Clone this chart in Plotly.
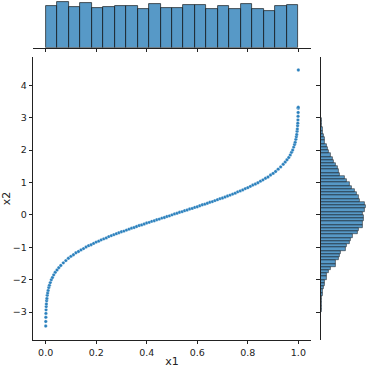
import numpy as np
import plotly.graph_objects as go

# scatter points (x1, x2)
x1_vals = [0.0003, 0.0005, 0.0008, 0.0012, 0.0017, 0.0023, 0.003, 0.004, 0.005, 0.0065,
           0.008, 0.01, 0.0125, 0.015, 0.0185, 0.0225, 0.027, 0.032, 0.038, 0.045,
           0.052, 0.06, 0.07, 0.08, 0.09, 0.10, 0.11, 0.12, 0.13, 0.14,
           0.15, 0.16, 0.17, 0.18, 0.19, 0.20, 0.21, 0.22, 0.23, 0.24,
           0.25, 0.26, 0.27, 0.28, 0.29, 0.30, 0.31, 0.32, 0.33, 0.34,
           0.35, 0.36, 0.37, 0.38, 0.39, 0.40, 0.41, 0.42, 0.43, 0.44,
           0.45, 0.46, 0.47, 0.48, 0.49, 0.50,
           0.51, 0.52, 0.53, 0.54, 0.55, 0.56, 0.57, 0.58, 0.59, 0.60,
           0.61, 0.62, 0.63, 0.64, 0.65, 0.66, 0.67, 0.68, 0.69, 0.70,
           0.71, 0.72, 0.73, 0.74, 0.75, 0.76, 0.77, 0.78, 0.79, 0.80,
           0.81, 0.82, 0.83, 0.84, 0.85, 0.86, 0.87, 0.88, 0.89, 0.90,
           0.91, 0.92, 0.93, 0.94, 0.948, 0.955, 0.962, 0.968, 0.973, 0.9775,
           0.9815, 0.985, 0.9875, 0.99, 0.992, 0.9935, 0.995, 0.996, 0.997, 0.9977,
           0.9983, 0.9988, 0.9992, 0.9995, 0.9996, 1.0]
x2_vals = [-3.43, -3.29, -3.16, -3.04, -2.93, -2.83, -2.75, -2.65, -2.58, -2.48,
           -2.41, -2.33, -2.24, -2.17, -2.09, -2.00, -1.93, -1.85, -1.77, -1.70,
           -1.63, -1.56, -1.48, -1.41, -1.34, -1.28, -1.23, -1.17, -1.13, -1.08,
           -1.04, -0.99, -0.95, -0.92, -0.88, -0.84, -0.81, -0.77, -0.74, -0.71,
           -0.67, -0.64, -0.61, -0.58, -0.55, -0.52, -0.50, -0.47, -0.44, -0.41,
           -0.39, -0.36, -0.33, -0.31, -0.28, -0.25, -0.23, -0.20, -0.18, -0.15,
           -0.13, -0.10, -0.08, -0.05, -0.03, 0.00,
           0.03, 0.05, 0.08, 0.10, 0.13, 0.15, 0.18, 0.20, 0.23, 0.25,
           0.28, 0.31, 0.33, 0.36, 0.39, 0.41, 0.44, 0.47, 0.50, 0.52,
           0.55, 0.58, 0.61, 0.64, 0.67, 0.71, 0.74, 0.77, 0.81, 0.84,
           0.88, 0.92, 0.95, 0.99, 1.04, 1.08, 1.13, 1.17, 1.23, 1.28,
           1.34, 1.41, 1.48, 1.56, 1.63, 1.70, 1.77, 1.85, 1.93, 2.00,
           2.09, 2.17, 2.24, 2.33, 2.41, 2.48, 2.58, 2.65, 2.75, 2.83,
           2.93, 3.04, 3.16, 3.29, 3.32, 4.47]

# top marginal histogram of x1 (22 bins over 0..1)
x1_counts = [457, 497, 443, 493, 439, 450, 461, 461, 418, 475, 432,
             436, 468, 464, 428, 457, 425, 475, 425, 403, 457, 464]

# right marginal histogram of x2 (bins of 0.1 starting at -3.5)
x2_counts = [2, 2, 3, 4, 5, 6, 8, 10, 12, 14,
             18, 22, 26, 36, 42, 58, 62, 80, 98, 148,
             155, 185, 192, 205, 258, 265, 290, 302, 322, 378,
             385, 425, 432, 440, 436, 432, 445, 458, 450, 398,
             388, 362, 350, 318, 298, 268, 245, 190, 182, 170,
             150, 132, 125, 98, 80, 76, 58, 42, 38, 30,
             24, 18, 14, 10, 8, 5, 4, 3, 2]

x1_edges = np.linspace(0, 1, len(x1_counts) + 1)
x1_centers = (x1_edges[:-1] + x1_edges[1:]) / 2
x2_centers = -3.5 + 0.1 * (np.arange(len(x2_counts)) + 0.5)

bar_fill = 'rgba(31,119,180,0.75)'
bar_edge = 'rgba(20,20,20,0.85)'
font = dict(family='DejaVu Sans', size=9.5, color='#222')

fig = go.Figure()
fig.add_trace(go.Bar(x=x1_centers, y=x1_counts, width=1 / len(x1_counts),
                     marker=dict(color=bar_fill, line=dict(color=bar_edge, width=0.8)),
                     xaxis='x2', yaxis='y2'))
fig.add_trace(go.Bar(y=x2_centers, x=x2_counts, width=0.1, orientation='h',
                     marker=dict(color=bar_fill, line=dict(color=bar_edge, width=0.6)),
                     xaxis='x3', yaxis='y3'))
fig.add_trace(go.Scatter(x=x1_vals, y=x2_vals, mode='markers',
                         marker=dict(color='#2a80bd', size=3.4, line=dict(color='white', width=0.3)),
                         xaxis='x', yaxis='y'))

dom_x = [33 / 368, 311 / 368]
dom_y = [1 - 340 / 368, 1 - 57 / 368]
axis_common = dict(showgrid=False, zeroline=False, showline=True, linecolor='#222', linewidth=0.8,
                   ticks='outside', ticklen=3.5, tickwidth=0.8, tickcolor='#222', automargin=False)

fig.update_layout(
    width=368, height=368, margin=dict(l=0, r=0, t=0, b=0),
    plot_bgcolor='white', paper_bgcolor='white', showlegend=False,
    bargap=0, font=font,
    xaxis=dict(domain=dom_x, range=[-0.05, 1.05], anchor='y', tickvals=[0, 0.2, 0.4, 0.6, 0.8, 1.0],
               ticktext=['0.0', '0.2', '0.4', '0.6', '0.8', '1.0'],
               title=dict(text='x1', standoff=3), **axis_common),
    yaxis=dict(domain=dom_y, range=[-3.86, 4.87], anchor='x', tickvals=[-3, -2, -1, 0, 1, 2, 3, 4],
               title=dict(text='x2', standoff=4), **axis_common),
    xaxis2=dict(domain=dom_x, range=[-0.05, 1.05], anchor='y2', showticklabels=False,
                tickvals=[0, 0.2, 0.4, 0.6, 0.8, 1.0], **axis_common),
    yaxis2=dict(domain=[1 - 47.7 / 368, 1], range=[0, max(x1_counts) * 1.05], anchor='x2',
                visible=False),
    xaxis3=dict(domain=[320.7 / 368, 1], range=[0, max(x2_counts) * 1.05], anchor='y3', visible=False),
    yaxis3=dict(domain=dom_y, range=[-3.86, 4.87], anchor='x3', showticklabels=False,
                tickvals=[-3, -2, -1, 0, 1, 2, 3, 4], **axis_common),
)

# drop the default page margin so the 368px figure fills the window
fig.write_html("out.html", config={'displayModeBar': False},
               post_script="document.body.style.margin='0px';")
